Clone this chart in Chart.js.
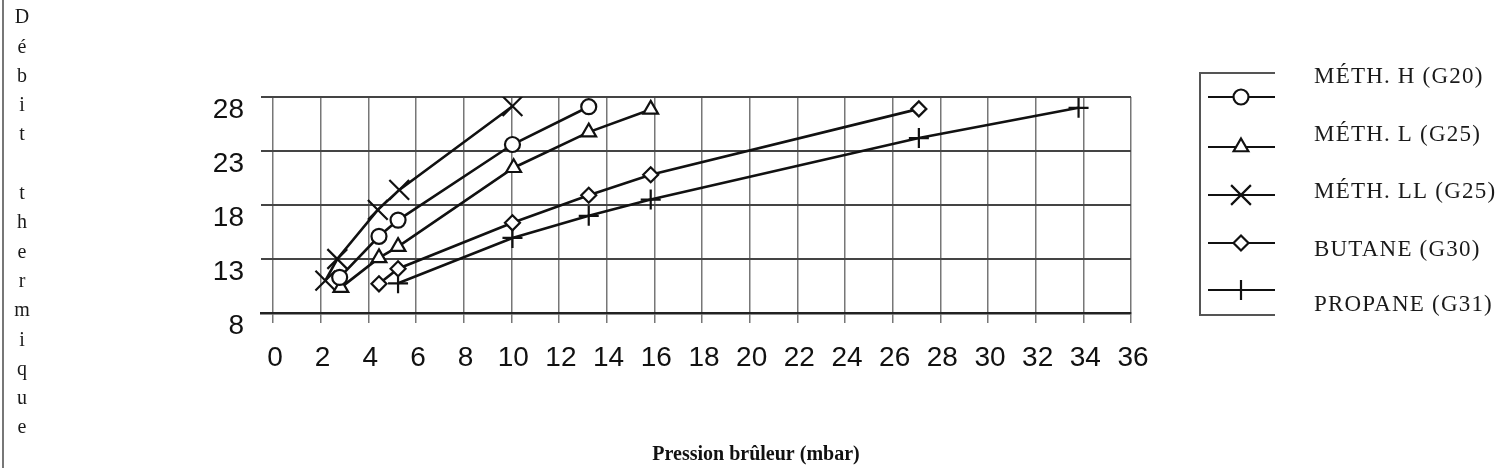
<!DOCTYPE html>
<html>
<head>
<meta charset="utf-8">
<script src="https://cdn.jsdelivr.net/npm/chart.js@4.4.1/dist/chart.umd.min.js"></script>
<style>
  html, body { margin: 0; padding: 0; background: #fff; }
  #wrap { width: 1504px; height: 468px; position: relative; }
</style>
</head>
<body>
<div id="wrap"><canvas id="graphe" width="1504" height="468"></canvas></div>
<script>
// valeurs
const xTicks = [0, 2, 4, 6, 8, 10, 12, 14, 16, 18, 20, 22, 24, 26, 28, 30, 32, 34, 36]
const yTicks = [8, 13, 18, 23, 28]

const gasLabels = ['MÉTH. H (G20)', 'MÉTH. L (G25)', 'MÉTH. LL (G25)', 'BUTANE (G30)', 'PROPANE (G31)']

const methHx = [2.8, 4.45, 5.25, 10.05, 13.25]
const methHy = [11.3, 15.1, 16.6, 23.6, 27.1]

const methLx = [2.85, 4.45, 5.25, 10.1, 13.25, 15.85]
const methLy = [10.35, 13.1, 14.15, 21.45, 24.75, 26.85]

const methLLx = [2.2, 2.7, 4.4, 5.3, 10.05]
const methLLy = [11.0, 13.0, 17.55, 19.4, 27.15]

const butaneX = [4.45, 5.25, 10.05, 13.25, 15.85, 27.1]
const butaneY = [10.7, 12.1, 16.35, 18.9, 20.8, 26.9]

const propaneX = [5.25, 10.05, 13.25, 15.85, 27.1, 33.8]
const propaneY = [10.75, 14.95, 17.0, 18.5, 24.2, 27.0]

const yTitle = 'Débit thermique'
const xTitle = 'Pression brûleur (mbar)'

function points(xs, ys) {
    return xs.map((x, i) => ({ x: x, y: ys[i] }))
}

function serie(label, xs, ys, style, radius) {
    return {
        label: label,
        data: points(xs, ys),
        borderColor: '#111',
        borderWidth: 2.6,
        tension: 0,
        pointStyle: style,
        pointRadius: radius,
        pointBackgroundColor: '#fff',
        pointBorderColor: '#111',
        pointBorderWidth: 2.2,
        fill: false
    }
}

function marker(ctx, style, radius, x, y) {
    ctx.save()
    ctx.fillStyle = '#fff'
    ctx.strokeStyle = '#111'
    ctx.lineWidth = 2.2
    if (Chart.helpers && Chart.helpers.drawPoint) {
        Chart.helpers.drawPoint(ctx, { pointStyle: style, radius: radius, rotation: 0, borderWidth: 2.2 }, x, y)
    }
    ctx.restore()
}

// titres, cadre de gauche et légende dessinés à la main
const decor = {
    id: 'decor',
    afterDraw(chart) {
        const ctx = chart.ctx
        ctx.save()

        // trait vertical à gauche
        ctx.strokeStyle = '#777'
        ctx.lineWidth = 2
        ctx.beginPath()
        ctx.moveTo(3, 0)
        ctx.lineTo(3, 468)
        ctx.stroke()

        // titre vertical lettre par lettre
        ctx.fillStyle = '#1a1a1a'
        ctx.font = '20px "Liberation Serif", "Times New Roman", serif'
        ctx.textAlign = 'center'
        ctx.textBaseline = 'middle'
        for (let i = 0; i < yTitle.length; i++) {
            if (yTitle[i] !== ' ') ctx.fillText(yTitle[i], 22, 18 + i * 29.3)
        }

        // titre axe x
        ctx.font = 'bold 20px "Liberation Serif", "Times New Roman", serif'
        ctx.fillStyle = '#111'
        ctx.fillText(xTitle, 756, 455)

        // légende
        ctx.strokeStyle = '#555'
        ctx.lineWidth = 2
        ctx.beginPath()
        ctx.moveTo(1275, 73)
        ctx.lineTo(1200, 73)
        ctx.lineTo(1200, 315)
        ctx.lineTo(1275, 315)
        ctx.stroke()

        const markY = [97, 147, 195, 243, 290]
        const textY = [77, 135, 192, 250, 305]
        ctx.font = '23px "Liberation Serif", "Times New Roman", serif'
        ctx.textAlign = 'left'
        ctx.fillStyle = '#1a1a1a'
        if ('letterSpacing' in ctx) ctx.letterSpacing = '1.2px'
        chart.data.datasets.forEach((ds, i) => {
            ctx.strokeStyle = '#111'
            ctx.lineWidth = 2.2
            ctx.beginPath()
            ctx.moveTo(1208, markY[i])
            ctx.lineTo(1275, markY[i])
            ctx.stroke()
            marker(ctx, ds.pointStyle, ds.pointRadius, 1241, markY[i])
            ctx.fillText(ds.label, 1314, textY[i])
        })
        ctx.restore()
    }
}

const tickFont = { family: '"Liberation Sans Narrow", "Arial Narrow", "Liberation Sans", Arial, sans-serif', size: 28 }

new Chart(document.getElementById('graphe'), {
    type: 'line',
    data: {
        datasets: [
            serie(gasLabels[0], methHx, methHy, 'circle', 7.5),
            serie(gasLabels[1], methLx, methLy, 'triangle', 8.5),
            serie(gasLabels[2], methLLx, methLLy, 'crossRot', 14),
            serie(gasLabels[3], butaneX, butaneY, 'rectRot', 7.5),
            serie(gasLabels[4], propaneX, propaneY, 'cross', 10)
        ]
    },
    options: {
        responsive: false,
        animation: false,
        devicePixelRatio: 1,
        layout: { padding: { top: 97, right: 373, left: 0, bottom: 0 } },
        plugins: {
            legend: { display: false },
            tooltip: { enabled: false }
        },
        scales: {
            x: {
                type: 'linear',
                min: -0.5,
                max: 36,
                afterBuildTicks: s => { s.ticks = xTicks.map(v => ({ value: v })) },
                afterFit: s => { s.height = 155 },
                ticks: {
                    color: '#111',
                    font: tickFont,
                    padding: 18,
                    labelOffset: 2,
                    maxRotation: 0,
                    autoSkip: false
                },
                grid: { color: '#777', lineWidth: 1.5, tickLength: 10, drawTicks: true },
                border: { display: true, color: '#222', width: 2.5 }
            },
            y: {
                min: 8,
                max: 28,
                afterBuildTicks: s => { s.ticks = yTicks.map(v => ({ value: v })) },
                afterFit: s => { s.width = 261 },
                ticks: {
                    color: '#111',
                    font: tickFont,
                    padding: 17,
                    labelOffset: 13
                },
                grid: { color: '#444', lineWidth: 2, drawTicks: false },
                border: { display: false }
            }
        }
    },
    plugins: [decor]
})
</script>
</body>
</html>
